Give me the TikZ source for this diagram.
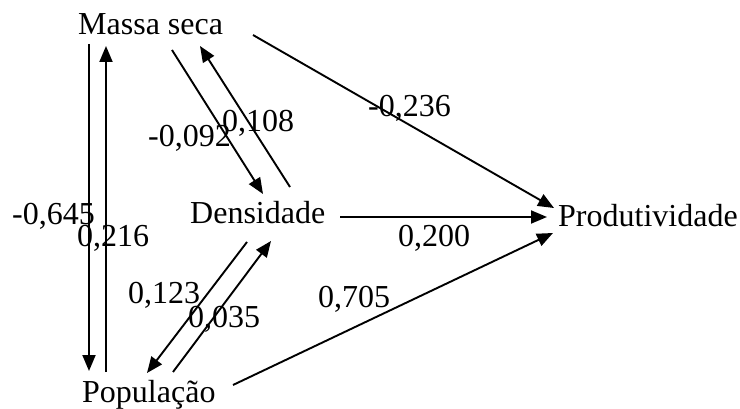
\documentclass[tikz,border=0pt]{standalone}
\usepackage{fontspec}
\setmainfont{Liberation Serif}
\usetikzlibrary{arrows.meta}
\begin{document}
\begin{tikzpicture}[x=1pt,y=-1pt,
  lbl/.style={anchor=base west,inner sep=0pt,font=\fontsize{32}{38}\selectfont},
  arr/.style={line width=1.9pt,-{Triangle[length=16pt,width=13pt]}}]
\useasboundingbox (0,0) rectangle (740,409);
% nodes
\node[lbl] (ms) at (78,35) {Massa seca};
\node[lbl] (de) at (190,224) {Densidade};
\node[lbl] (po) at (82,402) {População};
\node[lbl] (pr) at (558,227) {Produtividade};
% endpoints
\coordinate (msA) at (89,44);   \coordinate (poA) at (89,371);
\coordinate (poB) at (106,372); \coordinate (msB) at (106,46);
\coordinate (msC) at (172,50);  \coordinate (deC) at (263,194);
\coordinate (deD) at (290,187); \coordinate (msD) at (200,46);
\coordinate (deE) at (247,242); \coordinate (poE) at (147,373);
\coordinate (poF) at (173,372); \coordinate (deF) at (271,241);
\coordinate (msG) at (253,35);  \coordinate (prG) at (554,208);
\coordinate (deH) at (340,217); \coordinate (prH) at (547,217);
\coordinate (poI) at (233,385); \coordinate (prI) at (553,233);
% connectors
\draw[arr] (msA) -- (poA);
\draw[arr] (poB) -- (msB);
\draw[arr] (msC) -- (deC);
\draw[arr] (deD) -- (msD);
\draw[arr] (deE) -- (poE);
\draw[arr] (poF) -- (deF);
\draw[arr] (msG) -- (prG);
\draw[arr] (deH) -- (prH);
\draw[arr] (poI) -- (prI);
% labels
\node[lbl] (l1) at (12,225) {-0,645};
\node[lbl] (l2) at (77,247) {0,216};
\node[lbl] (l3) at (148,147) {-0,092};
\node[lbl] (l4) at (222,132) {0,108};
\node[lbl] (l5) at (128,303) {0,123};
\node[lbl] (l6) at (188,327) {0,035};
\node[lbl] (l7) at (368,117) {-0,236};
\node[lbl] (l8) at (398,247) {0,200};
\node[lbl] (l9) at (318,307) {0,705};
\end{tikzpicture}
\end{document}
